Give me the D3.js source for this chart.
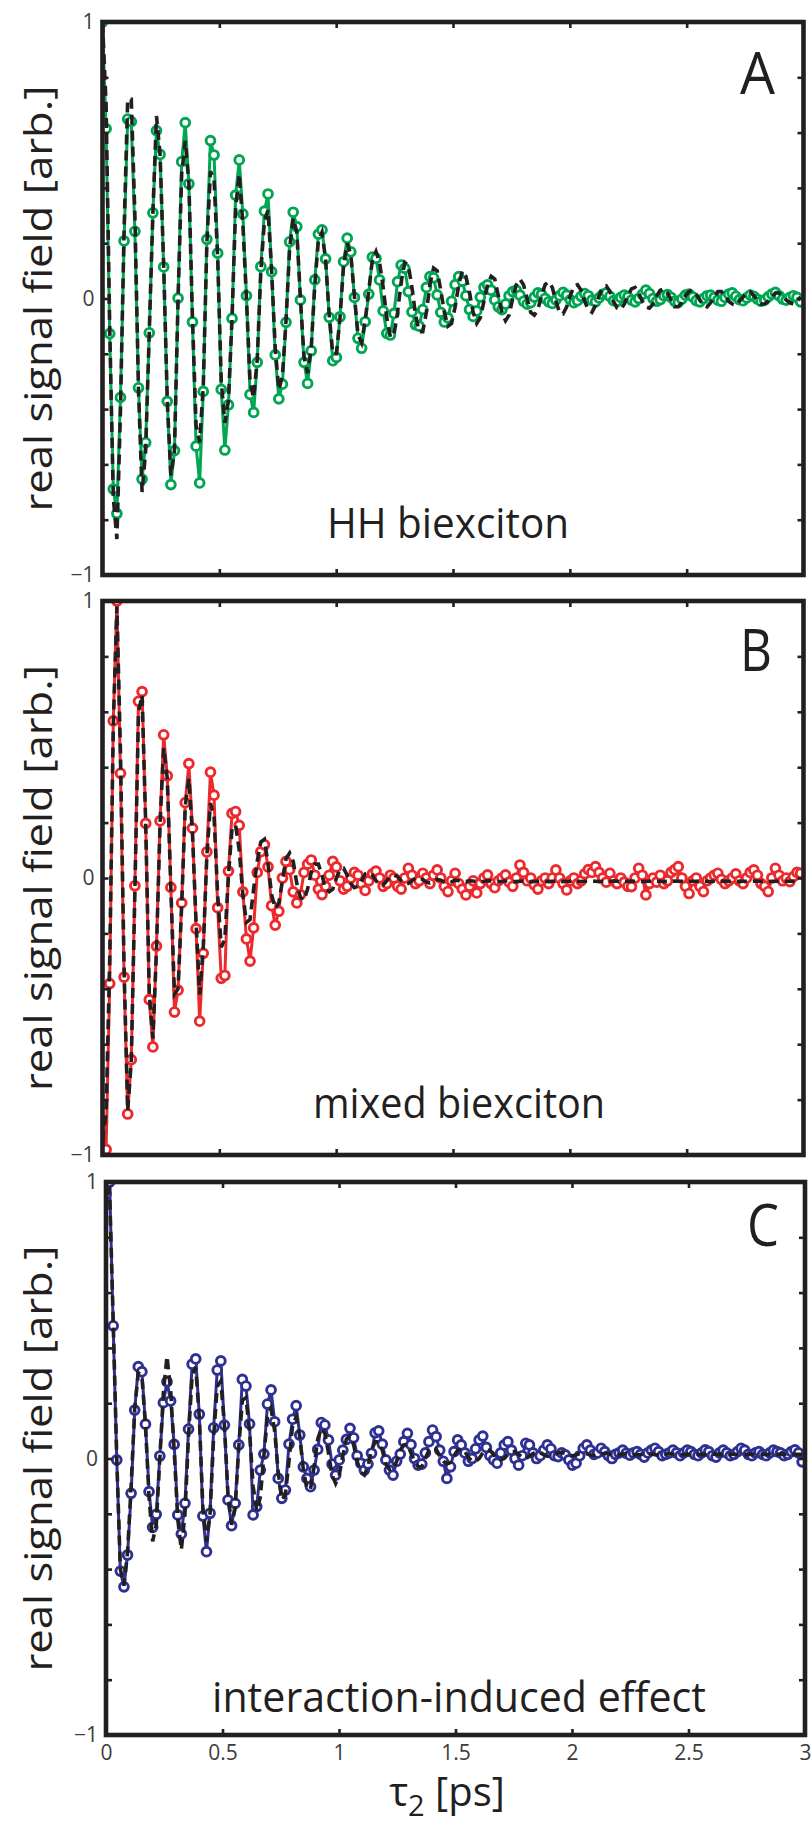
<!DOCTYPE html>
<html>
<head>
<meta charset="utf-8">
<script src="https://cdn.jsdelivr.net/npm/d3@7"></script>
<style>
  body { margin: 0; background: #fff; }
  svg { display: block; }
</style>
</head>
<body>
<svg id="fig" width="812" height="1829"></svg>
<script>
// tau2 sampling step of the measured traces [ps]
const T_STEP = 0.0154;

// HH biexciton: measured real signal field and fit
const hhData = [
  1.0,0.614,-0.127,-0.689,-0.778,-0.358,0.208,0.649,0.640,0.243,
  -0.323,-0.653,-0.521,-0.124,0.310,0.607,0.521,0.114,-0.372,-0.673,
  -0.550,0.001,0.495,0.636,0.415,-0.085,-0.534,-0.667,-0.336,0.214,
  0.571,0.519,0.164,-0.329,-0.548,-0.385,-0.072,0.374,0.501,0.306,
  0.010,-0.347,-0.412,-0.231,0.115,0.316,0.378,0.097,-0.204,-0.363,
  -0.310,-0.086,0.205,0.312,0.260,-0.005,-0.231,-0.307,-0.189,0.067,
  0.233,0.248,0.143,-0.068,-0.225,-0.213,-0.066,0.133,0.218,0.169,
  0.004,-0.144,-0.180,-0.084,0.016,0.150,0.145,0.067,-0.045,-0.126,
  -0.132,-0.054,0.061,0.121,0.109,0.025,-0.048,-0.095,-0.100,-0.040,
  0.040,0.079,0.075,0.013,-0.050,-0.085,-0.070,-0.010,0.050,0.079,
  0.062,0.010,-0.040,-0.065,-0.045,0.005,0.040,0.049,0.030,-0.005,
  -0.030,-0.040,-0.020,0.010,0.025,0.030,0.012,-0.010,-0.020,-0.015,
  0.005,0.020,0.015,0.000,-0.012,-0.018,-0.005,0.010,0.022,0.012,
  -0.005,-0.015,-0.008,0.008,0.018,0.010,-0.006,-0.012,0.002,0.015,
  0.020,0.008,-0.008,-0.010,0.004,0.012,0.006,-0.006,-0.012,0.000,
  0.015,0.030,0.018,0.000,-0.010,-0.004,0.010,0.014,0.004,-0.010,
  -0.014,-0.002,0.012,0.016,0.006,-0.008,-0.012,0.000,0.010,0.012,
  0.004,-0.006,-0.010,0.004,0.016,0.020,0.008,-0.004,-0.008,0.002,
  0.012,0.008,-0.002,-0.010,-0.006,0.006,0.016,0.022,0.010,-0.002,
  -0.006,0.004,0.010,0.004,-0.012];
const hhFit = [
  1.0,0.70,-0.10,-0.72,-0.87,-0.40,0.25,0.72,0.72,0.30,
  -0.33,-0.70,-0.55,-0.12,0.31,0.66,0.52,0.12,-0.37,-0.64,
  -0.55,0.00,0.45,0.57,0.42,-0.07,-0.46,-0.52,-0.32,0.20,
  0.46,0.43,0.15,-0.30,-0.45,-0.37,-0.07,0.33,0.45,0.27,
  0.00,-0.30,-0.36,-0.22,0.10,0.28,0.32,0.10,-0.18,-0.33,
  -0.28,-0.08,0.18,0.29,0.24,0.00,-0.21,-0.27,-0.18,0.05,
  0.21,0.24,0.14,-0.06,-0.20,-0.20,-0.07,0.12,0.20,0.16,
  0.01,-0.13,-0.16,-0.08,0.03,0.14,0.17,0.13,0.04,-0.07,
  -0.14,-0.13,-0.05,0.06,0.13,0.12,0.04,-0.06,-0.12,-0.12,
  -0.05,0.05,0.11,0.10,0.03,-0.05,-0.10,-0.09,-0.03,0.05,
  0.10,0.08,0.02,-0.05,-0.09,-0.07,-0.01,0.05,0.08,0.07,
  0.01,-0.05,-0.08,-0.06,0.00,0.05,0.07,0.05,0.00,-0.05,
  -0.06,-0.04,0.01,0.05,0.06,0.04,-0.01,-0.05,-0.055,-0.03,
  0.01,0.045,0.05,0.03,-0.01,-0.04,-0.05,-0.025,0.01,0.04,
  0.045,0.025,-0.01,-0.035,-0.04,-0.02,0.01,0.035,0.04,0.02,
  -0.01,-0.03,-0.035,-0.02,0.01,0.03,0.035,0.02,-0.005,-0.03,
  -0.03,-0.015,0.01,0.025,0.03,0.015,-0.005,-0.025,-0.03,-0.015,
  0.005,0.025,0.025,0.01,-0.01,-0.02,-0.025,-0.01,0.005,0.02,
  0.025,0.01,-0.005,-0.02,-0.02,-0.01,0.005,0.02,0.02,0.01,
  -0.005,-0.015,-0.02,-0.01,0.005];

// mixed biexciton: measured real signal field and fit
const mixData = [
  -0.881,-0.980,-0.381,0.567,1.000,0.378,-0.358,-0.852,-0.656,-0.028,
  0.638,0.673,0.197,-0.439,-0.610,-0.246,0.206,0.517,0.369,-0.034,
  -0.484,-0.405,-0.090,0.272,0.413,0.180,-0.183,-0.517,-0.272,0.094,
  0.382,0.299,-0.107,-0.362,-0.352,0.025,0.233,0.240,0.190,-0.050,
  -0.220,-0.300,-0.180,0.020,0.095,0.120,0.040,-0.100,-0.170,-0.120,
  0.000,0.060,0.030,-0.050,-0.090,-0.060,0.020,0.050,0.065,0.010,
  -0.040,-0.060,-0.030,0.010,0.060,0.040,-0.010,-0.040,-0.030,0.000,
  0.020,0.010,-0.020,-0.045,-0.010,0.015,0.025,0.000,-0.030,-0.020,
  0.010,0.000,-0.030,-0.040,0.000,0.035,0.010,-0.020,-0.010,0.017,
  0.000,-0.020,0.010,0.029,0.000,-0.030,-0.049,-0.010,0.017,-0.020,
  -0.040,-0.061,-0.030,-0.010,-0.054,-0.020,0.000,0.011,-0.020,-0.035,
  -0.010,0.000,0.011,-0.015,-0.030,0.000,0.047,0.020,-0.010,0.000,
  -0.025,-0.040,-0.010,0.000,-0.020,0.000,0.029,0.000,-0.020,-0.043,
  -0.010,0.000,-0.020,-0.010,0.015,0.030,0.020,0.041,0.020,0.000,
  -0.015,0.017,-0.010,-0.020,0.000,-0.015,-0.030,-0.031,0.000,0.035,
  0.010,-0.061,-0.020,0.000,-0.015,0.010,-0.020,-0.010,0.020,0.030,
  0.041,0.000,-0.030,-0.056,-0.010,0.000,-0.030,-0.049,-0.010,0.000,
  0.010,0.017,-0.005,-0.020,-0.010,0.000,0.015,-0.010,-0.020,0.000,
  0.020,0.029,0.010,-0.020,-0.030,-0.049,0.000,0.035,0.010,-0.010,
  0.000,-0.013,0.005,0.020,0.017];
const mixFit = [
  -0.950,-0.850,-0.300,0.550,0.980,0.450,-0.330,-0.840,-0.660,-0.050,
  0.600,0.660,0.200,-0.420,-0.580,-0.260,0.200,0.470,0.360,-0.040,
  -0.420,-0.400,-0.100,0.260,0.360,0.160,-0.160,-0.420,-0.250,0.080,
  0.270,0.220,-0.060,-0.250,-0.220,0.010,0.180,0.190,0.100,-0.060,
  -0.160,-0.150,-0.040,0.060,0.130,0.140,0.050,-0.060,-0.110,-0.090,
  -0.010,0.070,0.090,0.060,-0.020,-0.070,-0.080,-0.040,0.020,0.050,
  0.050,0.010,-0.040,-0.050,-0.040,0.000,0.030,0.035,0.010,-0.020,
  -0.035,-0.030,-0.010,0.015,0.020,0.010,-0.010,-0.025,-0.025,-0.010,
  0.005,0.010,0.005,-0.010,-0.020,-0.020,-0.010,0.000,0.000,-0.005,
  -0.015,-0.018,-0.012,-0.005,-0.008,-0.015,-0.018,-0.014,-0.008,-0.010,
  -0.014,-0.013,-0.010,-0.011,-0.013,-0.014,-0.012,-0.010,-0.011,-0.013,
  -0.014,-0.012,-0.011,-0.011,-0.013,-0.013,-0.012,-0.011,-0.012,-0.013,
  -0.013,-0.012,-0.011,-0.012,-0.013,-0.012,-0.011,-0.012,-0.013,-0.012,
  -0.012,-0.011,-0.012,-0.013,-0.012,-0.012,-0.011,-0.012,-0.013,-0.012,
  -0.012,-0.012,-0.011,-0.012,-0.013,-0.012,-0.012,-0.011,-0.012,-0.012,
  -0.013,-0.012,-0.012,-0.011,-0.012,-0.012,-0.013,-0.012,-0.012,-0.011,
  -0.012,-0.012,-0.013,-0.012,-0.012,-0.012,-0.011,-0.012,-0.012,-0.013,
  -0.012,-0.012,-0.012,-0.011,-0.012,-0.012,-0.012,-0.013,-0.012,-0.012,
  -0.012,-0.011,-0.012,-0.012,-0.012,-0.013,-0.012,-0.012,-0.012,-0.011,
  -0.012,-0.012,-0.012,-0.012,-0.012];

// interaction-induced effect: measured real signal field and fit
const intData = [
  0.955,1.000,0.480,-0.005,-0.407,-0.464,-0.349,-0.126,0.175,0.332,
  0.314,0.124,-0.120,-0.249,-0.202,0.009,0.202,0.278,0.208,0.051,
  -0.204,-0.273,-0.162,0.106,0.341,0.360,0.160,-0.208,-0.337,-0.198,
  0.111,0.320,0.353,0.121,-0.150,-0.243,-0.162,0.049,0.286,0.262,
  0.125,-0.204,-0.174,-0.042,0.016,0.197,0.248,0.133,-0.072,-0.144,
  -0.114,0.052,0.142,0.191,0.085,-0.030,-0.072,-0.102,-0.042,0.033,
  0.130,0.121,0.067,-0.020,-0.060,-0.005,0.030,0.069,0.109,0.075,
  0.010,-0.017,-0.042,-0.020,0.019,0.093,0.100,0.052,-0.005,-0.042,
  -0.060,-0.010,0.016,0.061,0.091,0.050,0.000,-0.024,-0.020,0.020,
  0.061,0.103,0.079,0.030,-0.010,-0.072,-0.030,0.025,0.067,0.049,
  0.020,-0.010,0.000,0.035,0.067,0.081,0.040,0.010,-0.005,-0.017,
  0.020,0.049,0.061,0.030,0.000,-0.024,0.010,0.055,0.049,0.020,
  0.000,0.010,0.030,0.049,0.035,0.010,0.007,0.020,0.013,-0.005,
  -0.024,-0.017,0.010,0.037,0.049,0.030,0.015,0.020,0.037,0.025,
  0.010,0.000,0.015,0.020,0.030,0.019,0.012,0.020,0.025,0.015,
  0.005,0.020,0.030,0.037,0.025,0.010,0.015,0.020,0.030,0.020,
  0.010,0.020,0.030,0.025,0.015,0.010,0.020,0.031,0.025,0.010,
  0.005,0.020,0.030,0.020,0.010,0.015,0.025,0.037,0.030,0.015,
  0.010,0.020,0.025,0.015,0.010,0.020,0.030,0.025,0.020,0.010,
  0.015,0.025,0.031,0.020,-0.012];
const intFit = [
  0.950,0.970,0.500,0.000,-0.400,-0.460,-0.340,-0.100,0.180,0.310,
  0.300,0.120,-0.140,-0.300,-0.240,0.000,0.240,0.370,0.250,0.030,
  -0.220,-0.330,-0.200,0.080,0.300,0.330,0.150,-0.180,-0.300,-0.200,
  0.080,0.260,0.280,0.120,-0.130,-0.240,-0.180,0.040,0.210,0.220,
  0.100,-0.100,-0.190,-0.140,0.010,0.150,0.180,0.100,-0.050,-0.150,
  -0.130,-0.010,0.120,0.150,0.080,-0.040,-0.110,-0.110,-0.030,0.070,
  0.110,0.090,0.020,-0.060,-0.090,-0.060,0.010,0.070,0.080,0.050,
  -0.010,-0.050,-0.060,-0.030,0.030,0.060,0.060,0.030,-0.020,-0.040,
  -0.040,-0.010,0.030,0.050,0.050,0.020,-0.010,-0.030,-0.030,0.000,
  0.030,0.040,0.035,0.010,-0.010,-0.020,-0.015,0.010,0.030,0.035,
  0.025,0.005,-0.010,-0.010,0.000,0.020,0.030,0.030,0.015,0.000,
  -0.005,0.000,0.015,0.025,0.025,0.015,0.005,0.000,0.008,0.018,
  0.024,0.022,0.014,0.008,0.008,0.014,0.020,0.022,0.018,0.012,
  0.010,0.013,0.018,0.020,0.017,0.013,0.011,0.013,0.017,0.019,
  0.017,0.014,0.012,0.013,0.016,0.018,0.017,0.014,0.013,0.014,
  0.016,0.017,0.016,0.014,0.013,0.014,0.016,0.017,0.016,0.015,
  0.014,0.014,0.015,0.016,0.016,0.015,0.014,0.014,0.015,0.016,
  0.016,0.015,0.014,0.015,0.015,0.016,0.015,0.015,0.014,0.015,
  0.015,0.016,0.015,0.015,0.015,0.014,0.015,0.015,0.016,0.015,
  0.015,0.015,0.015,0.015,0.015];

const xTicks = [0, 0.5, 1, 1.5, 2, 2.5, 3];
const xTickLabels = ["0", "0.5", "1", "1.5", "2", "2.5", "3"];
const yTicks = [-1, -0.8, -0.6, -0.4, -0.2, 0, 0.2, 0.4, 0.6, 0.8, 1];
const yTickLabels = {"-1": "\u22121", "0": "0", "1": "1"};
const panelLetters = ["A", "B", "C"];
const captions = ["HH biexciton", "mixed biexciton", "interaction-induced effect"];
const yTitle = "real signal field [arb.]";

const panels = [
  { data: hhData,  fit: hhFit,  color: "#00a651", x0: 102.5, x1: 803.5, top: 22,  bottom: 575,
    letter: { x: 740, y: 94, w: 35 }, caption: { x: 327, y: 538, w: 242 } },
  { data: mixData, fit: mixFit, color: "#ec2a2d", x0: 102.5, x1: 803.5, top: 601, bottom: 1155,
    letter: { x: 740, y: 671, w: 32 }, caption: { x: 313, y: 1118, w: 292 } },
  { data: intData, fit: intFit, color: "#2e3192", x0: 106,   x1: 805,   top: 1182, bottom: 1735,
    letter: { x: 747, y: 1246, w: 32 }, caption: { x: 212, y: 1712, w: 494 } }
];

const FONT = "'Open Sans', 'Noto Sans', sans-serif";
const INK = "#231f20";
const svg = d3.select("#fig");

panels.forEach((p, k) => {
  const x = d3.scaleLinear().domain([0, 3]).range([p.x0, p.x1]);
  const y = d3.scaleLinear().domain([-1, 1]).range([p.bottom, p.top]);
  const g = svg.append("g");

  const clipId = "clip" + k;
  svg.append("clipPath").attr("id", clipId)
    .append("rect").attr("x", p.x0).attr("y", p.top)
    .attr("width", p.x1 - p.x0).attr("height", p.bottom - p.top);

  const plot = g.append("g").attr("clip-path", `url(#${clipId})`);
  const pts = p.data.map((v, i) => [i * T_STEP, v]);
  const fitPts = p.fit.map((v, i) => [i * T_STEP, v]);
  const line = d3.line().x(d => x(d[0])).y(d => y(d[1]));

  // measured trace: solid line with open circles
  plot.append("path").attr("d", line(pts))
    .attr("fill", "none").attr("stroke", p.color)
    .attr("stroke-width", 3).attr("stroke-linejoin", "round");
  plot.selectAll("circle").data(pts).join("circle")
    .attr("cx", d => x(d[0])).attr("cy", d => y(d[1])).attr("r", 4.4)
    .attr("fill", "#fff").attr("stroke", p.color).attr("stroke-width", 2.9);
  // fit: black dashed line on top
  plot.append("path").attr("d", line(fitPts))
    .attr("fill", "none").attr("stroke", INK)
    .attr("stroke-width", 3.6).attr("stroke-dasharray", "10,6");

  // inward ticks on all four sides
  const styleAxis = sel => {
    sel.select(".domain").remove();
    sel.selectAll(".tick line").attr("stroke", INK).attr("stroke-width", 2.6);
    sel.selectAll(".tick text").attr("font-family", FONT).attr("fill", "#3c3c3c")
      .attr("font-size", 21);
  };
  g.append("g").attr("transform", `translate(${p.x0},0)`)
    .call(d3.axisLeft(y).tickValues(yTicks).tickSizeInner(-6).tickSizeOuter(0).tickPadding(8)
      .tickFormat(v => yTickLabels[String(Math.round(v * 10) / 10)] || ""))
    .call(styleAxis);
  g.append("g").attr("transform", `translate(${p.x1},0)`)
    .call(d3.axisRight(y).tickValues(yTicks).tickSizeInner(-6).tickSizeOuter(0).tickFormat(""))
    .call(styleAxis);
  g.append("g").attr("transform", `translate(0,${p.top})`)
    .call(d3.axisTop(x).tickValues(xTicks.slice(1, -1)).tickSizeInner(-6).tickSizeOuter(0).tickFormat(""))
    .call(styleAxis);
  const bottomAxis = d3.axisBottom(x).tickValues(k === 2 ? xTicks : xTicks.slice(1, -1))
    .tickSizeInner(-6).tickSizeOuter(0).tickPadding(10)
    .tickFormat(k === 2 ? (v, i) => xTickLabels[i] : "");
  g.append("g").attr("transform", `translate(0,${p.bottom})`)
    .call(bottomAxis).call(styleAxis);

  // frame
  g.append("rect").attr("x", p.x0).attr("y", p.top)
    .attr("width", p.x1 - p.x0).attr("height", p.bottom - p.top)
    .attr("fill", "none").attr("stroke", INK).attr("stroke-width", 4.6);

  // panel letter
  g.append("text").attr("x", p.letter.x).attr("y", p.letter.y)
    .attr("font-family", FONT).attr("font-size", 59).attr("fill", INK)
    .attr("textLength", p.letter.w).attr("lengthAdjust", "spacingAndGlyphs")
    .text(panelLetters[k]);

  // caption
  g.append("text").attr("x", p.caption.x).attr("y", p.caption.y)
    .attr("font-family", FONT).attr("font-size", 42).attr("fill", INK)
    .attr("textLength", p.caption.w).attr("lengthAdjust", "spacingAndGlyphs")
    .text(captions[k]);

  // y title
  const cy = (p.top + p.bottom) / 2;
  g.append("text").attr("transform", `translate(52,${cy}) rotate(-90)`)
    .attr("text-anchor", "middle")
    .attr("font-family", FONT).attr("font-size", 38).attr("fill", INK)
    .attr("textLength", 426).attr("lengthAdjust", "spacingAndGlyphs")
    .text(yTitle);
});

// x title: tau_2 [ps]
const xt = svg.append("text").attr("x", 447).attr("y", 1806)
  .attr("text-anchor", "middle").attr("font-family", FONT)
  .attr("font-size", 40).attr("fill", INK);
xt.append("tspan").text("\u03c4");
xt.append("tspan").attr("font-size", 29).attr("dy", 10).text("2");
xt.append("tspan").attr("dy", -10).text(" [ps]");
</script>
</body>
</html>
